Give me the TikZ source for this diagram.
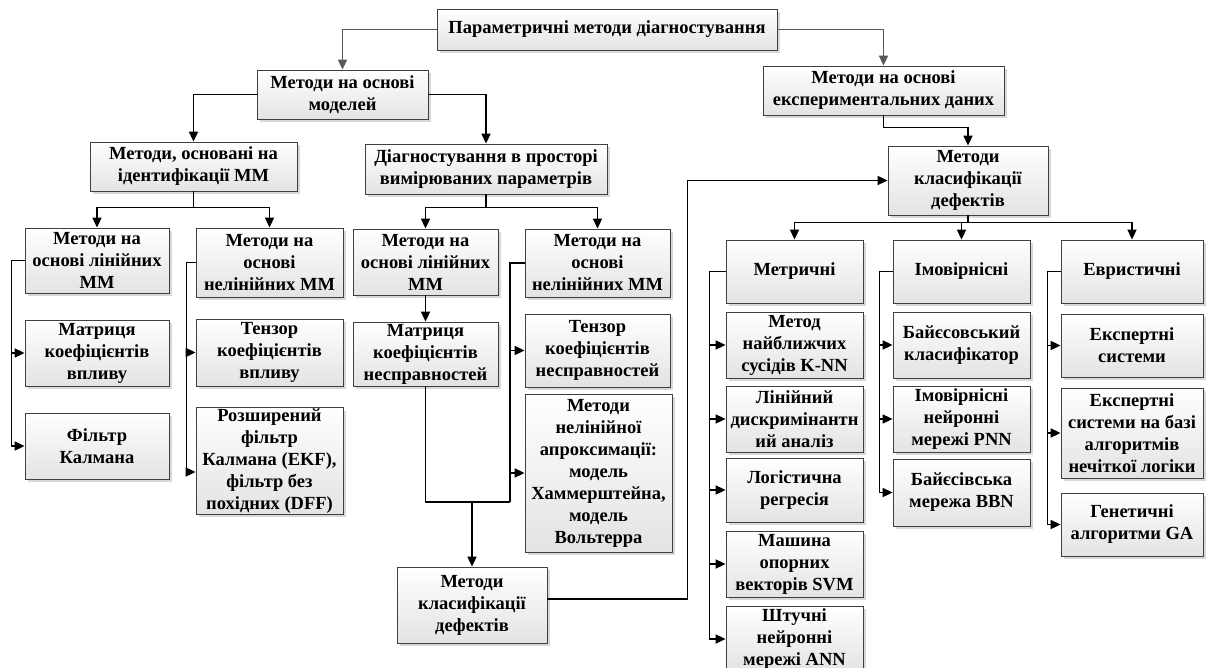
\documentclass[tikz,border=0pt]{standalone}
\usepackage{fontspec}
\setmainfont{Liberation Serif}
\usetikzlibrary{arrows.meta,shadows,calc}
\tikzset{
  box/.style={draw=gray!50!black, line width=0.8pt, top color=white, bottom color=gray!22,
    drop shadow={shadow xshift=3pt, shadow yshift=-3pt, fill=gray!60},
    align=center, inner sep=1pt, font=\fontsize{18.5}{22}\selectfont\bfseries},
  sz/.style 2 args={minimum width=#1pt, minimum height=#2pt},
  arr/.style={-{Triangle[length=10pt,width=9pt]}, line width=1.7pt},
  link/.style={line width=1.7pt},
}
\begin{document}
\begin{tikzpicture}[x=1pt,y=-1pt]
\useasboundingbox (0,0) rectangle (1215,668);
% top levels
\node[box, sz={340}{41}] (top) at (607,29.5) {Параметричні методи діагностування};
\node[box, sz={171}{49}] (models) at (342.5,94.5) {Методи на основі\\моделей};
\node[box, sz={241}{49}] (exper) at (883.5,90.5) {Методи на основі\\експериментальних даних};
\node[box, sz={207}{49}] (ident) at (193.5,166.5) {Методи, основані на\\ідентифікації ММ};
\node[box, sz={242}{50}] (diag) at (486,169) {Діагностування в просторі\\вимірюваних параметрів};
\node[box, sz={160}{69}] (klasR) at (968,180.5) {Методи\\класифікації\\дефектів};

% identification branch
\node[box, sz={144}{65}] (linL) at (97,260.5) {Методи на\\основі лінійних\\ММ};
\node[box, sz={147}{69}] (nelL) at (269.5,262.5) {Методи на\\основі\\нелінійних ММ};
\node[box, sz={144}{66}] (matL) at (97,353) {Матриця\\коефіцієнтів\\впливу};
\node[box, sz={144}{66}] (kalL) at (97,446) {Фільтр\\Калмана};
\node[box, sz={147}{67}] (tenL) at (269.5,352.5) {Тензор\\коефіцієнтів\\впливу};
\node[box, sz={147}{92}] (ekfL) at (269.5,461) {Розширений\\фільтр\\Калмана (EKF),\\фільтр без\\похідних (DFF)};

% measured parameters branch
\node[box, sz={145}{66}] (linM) at (425.5,262) {Методи на\\основі лінійних\\ММ};
\node[box, sz={145}{68}] (nelM) at (597.5,263) {Методи на\\основі\\нелінійних ММ};
\node[box, sz={145}{64}] (matM) at (425.5,354) {Матриця\\коефіцієнтів\\несправностей};
\node[box, sz={145}{73}] (tenM) at (597.5,350.5) {Тензор\\коефіцієнтів\\несправностей};
\node[box, sz={147}{158}] (aprM) at (598.5,473) {Методи\\нелінійної\\апроксимації:\\модель\\Хаммерштейна,\\модель\\Вольтерра};
\node[box, sz={150}{76}] (klasB) at (472,605) {Методи\\класифікації\\дефектів};

% classification columns
\node[box, sz={137}{63}] (metr) at (794.5,271.5) {Метричні};
\node[box, sz={137}{63}] (imov) at (961.5,271.5) {Імовірнісні};
\node[box, sz={142}{63}] (evr) at (1132,271.5) {Евристичні};

\node[box, sz={137}{66}] (knn) at (794.5,345) {Метод\\найближчих\\сусідів K-NN};
\node[box, sz={137}{66}] (lda) at (794.5,419) {Лінійний\\дискримінантн\\ий аналіз};
\node[box, sz={137}{64}] (logr) at (794.5,490) {Логістична\\регресія};
\node[box, sz={137}{66}] (svm) at (794.5,564) {Машина\\опорних\\векторів SVM};
\node[box, sz={137}{66}] (ann) at (794.5,639) {Штучні\\нейронні\\мережі ANN};

\node[box, sz={137}{66}] (bayes) at (961.5,345) {Байєсовський\\класифікатор};
\node[box, sz={137}{66}] (pnn) at (961.5,419) {Імовірнісні\\нейронні\\мережі PNN};
\node[box, sz={137}{67}] (bbn) at (961.5,492.5) {Байєсівська\\мережа BBN};

\node[box, sz={142}{63}] (exs) at (1132,345.5) {Експертні\\системи};
\node[box, sz={142}{90}] (exf) at (1132,433) {Експертні\\системи на базі\\алгоритмів\\нечіткої логіки};
\node[box, sz={142}{63}] (ga) at (1132,524.5) {Генетичні\\алгоритми GA};

% connectors
\draw[arr, gray!70!black] (top.west) -| (models.north);
\draw[arr, gray!70!black] (top.east) -| (exper.north);
\draw[arr] (models.west) -| (ident.north);
\draw[arr] (models.east) -| (diag.north);

\draw[arr] (ident.south) -- ++(0,16) -| (linL.north);
\draw[arr] (ident.south) -- ++(0,16) -| (nelL.north);
\draw[arr] (linL.west) -- ++(-13,0) |- (matL.west);
\draw[arr] (linL.west) -- ++(-13,0) |- (kalL.west);
\draw[arr] (nelL.west) -- ++(-9,0) |- (tenL.west);
\draw[arr] (nelL.west) -- ++(-9,0) |- ([yshift=-11pt]ekfL.west);

\draw[arr] (diag.south) -- ++(0,13) -| (linM.north);
\draw[arr] (diag.south) -- ++(0,13) -| (nelM.north);
\draw[arr] (linM.south) -- (matM.north);
\coordinate (joinM) at (510,502);
\draw[link] (matM.south) |- (joinM);
\draw[link] (nelM.west) -| (joinM);
\draw[arr] (joinM |- tenM.west) -- (tenM.west);
\draw[arr] (joinM |- aprM.west) -- (aprM.west);
\draw[arr] (klasB.north |- joinM) -- (klasB.north);
\draw[arr] ([yshift=6pt]klasB.east) -- ++(140,0) |- (klasR.west);

\draw[arr] (exper.south) -- ++(0,12) -| (klasR.north);
\draw[arr] (klasR.south) -- ++(0,7) -| (metr.north);
\draw[arr] (klasR.south) -- ++(0,7) -| (imov.north);
\draw[arr] (klasR.south) -- ++(0,7) -| (evr.north);

\foreach \n in {knn,lda,logr,svm,ann}
  \draw[arr] (metr.west) -- ++(-16,0) |- (\n.west);
\foreach \n in {bayes,pnn,bbn}
  \draw[arr] (imov.west) -- ++(-13,0) |- (\n.west);
\foreach \n in {exs,exf,ga}
  \draw[arr] (evr.west) -- ++(-13,0) |- (\n.west);
\end{tikzpicture}
\end{document}
